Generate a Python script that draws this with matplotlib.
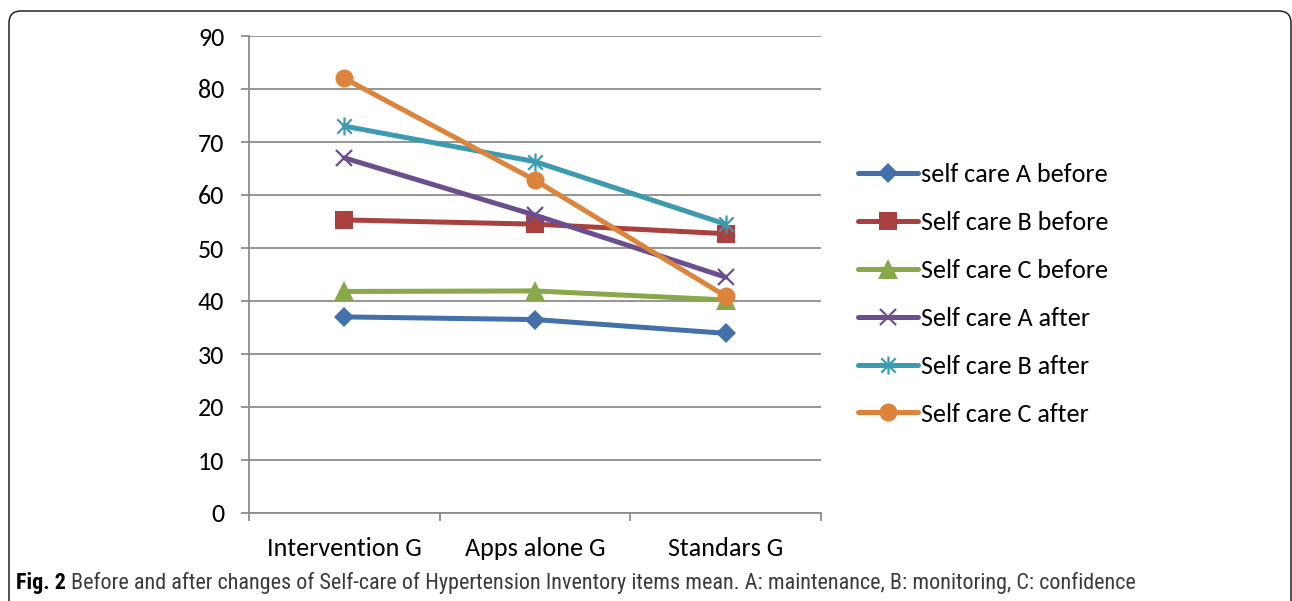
import matplotlib
matplotlib.use('Agg')
import matplotlib.pyplot as plt
from matplotlib import font_manager as fm
from matplotlib.path import Path
from matplotlib.patches import FancyBboxPatch
from matplotlib.transforms import IdentityTransform

# ---------------- data ----------------
categories = ['Intervention G', 'Apps alone G', 'Standars G']
series_names = ['self care A before', 'Self care B before', 'Self care C before',
                'Self care A after', 'Self care B after', 'Self care C after']
a_before = [37.0, 36.5, 33.9]
b_before = [55.3, 54.5, 52.7]
c_before = [41.8, 41.9, 40.2]
a_after = [67.0, 56.2, 44.5]
b_after = [73.0, 66.3, 54.5]
c_after = [82.0, 62.8, 40.9]
y_ticks = [0, 10, 20, 30, 40, 50, 60, 70, 80, 90]
caption_bold = 'Fig. 2'
caption_text = ('Before and after changes of Self-care of Hypertension Inventory items mean. '
                'A: maintenance, B: monitoring, C: confidence')

# ---------------- fonts ----------------
def pick(names, need_regular=False):
    for n in names:
        try:
            f = fm.findfont(fm.FontProperties(family=n, weight='normal'),
                            fallback_to_default=False)
            if need_regular and 'bold' in f.lower():
                continue
            return n
        except Exception:
            pass
    return 'DejaVu Sans'

main_font = pick(['Carlito', 'Calibri', 'Lato', 'Open Sans'])
cap_font = pick(['Liberation Sans Narrow', 'Roboto Condensed', 'Lato', 'Open Sans'],
                need_regular=True)

W, H, DPI = 1292, 601, 100
fig = plt.figure(figsize=(W / DPI, H / DPI), dpi=DPI)
renderer = fig.canvas.get_renderer()

def text_width(s, family, size, weight='normal'):
    t = fig.text(0, 0, s, family=family, fontsize=size, weight=weight)
    w = t.get_window_extent(renderer).width
    t.remove()
    return w

# fit main font so that "Intervention G" is ~155 px wide
main_size = 10 * 155 / text_width('Intervention G', main_font, 10)

# ---------------- axes ----------------
L, R, T, B = 249, 821, 36, 513
ax = fig.add_axes([L / W, 1 - B / H, (R - L) / W, (B - T) / H])

grid_col = '#8c8c8c'
colors = ['#4470A9', '#A9423F', '#88A84A', '#6B4E8E', '#3C9BB1', '#DC843B']

star = Path([(-1, -1), (1, 1), (-1, 1), (1, -1), (0, -1.25), (0, 1.25)],
            [Path.MOVETO, Path.LINETO, Path.MOVETO, Path.LINETO, Path.MOVETO, Path.LINETO])

styles = [
    dict(marker='D', markersize=10, mew=0),
    dict(marker='s', markersize=12.5, mew=0),
    dict(marker='^', markersize=14, mew=0),
    dict(marker='x', markersize=12, mew=1.6),
    dict(marker=star, markersize=13, mew=1.6),
    dict(marker='o', markersize=13, mew=0),
]
all_series = [a_before, b_before, c_before, a_after, b_after, c_after]
x = list(range(len(categories)))
handles = []
for vals, name, col, st in zip(all_series, series_names, colors, styles):
    h, = ax.plot(x, vals, color=col, lw=3.6, solid_capstyle='round',
                 markerfacecolor=col, markeredgecolor=col, label=name,
                 zorder=3, clip_on=False, **st)
    handles.append(h)

ax.set_xlim(-0.5, len(categories) - 0.5)
ax.set_ylim(0, 90)
ax.set_yticks(y_ticks)
ax.set_yticklabels([str(v) for v in y_ticks])
ax.yaxis.grid(True, color=grid_col, lw=1.3)
ax.set_axisbelow(True)
for s in ['top', 'right']:
    ax.spines[s].set_visible(False)
for s in ['left', 'bottom']:
    ax.spines[s].set_color(grid_col)
    ax.spines[s].set_linewidth(1.3)

ax.set_xticks(x)
ax.set_xticklabels(categories)
ax.set_xticks([i - 0.5 for i in range(len(categories) + 1)], minor=True)
ax.tick_params(axis='x', which='major', length=0, pad=17.5)
ax.tick_params(axis='x', which='minor', length=5.8, width=1.3, color=grid_col)
ax.tick_params(axis='y', length=5.8, width=1.3, color=grid_col, pad=12)
for lab in ax.get_xticklabels() + ax.get_yticklabels():
    lab.set_family(main_font)
    lab.set_fontsize(main_size)
    lab.set_color('black')

# ---------------- legend ----------------
leg = fig.legend(handles=handles, loc='center left',
                 bbox_to_anchor=(858 / W, 1 - 294.5 / H),
                 frameon=False, borderpad=0, borderaxespad=0,
                 handlelength=2.3, handletextpad=0.1, labelspacing=0.95,
                 prop=dict(family=main_font, size=main_size))

# ---------------- caption ----------------
cap_target = 1114
size0 = 10
wb = text_width(caption_bold + ' ', cap_font, size0, 'bold')
wr = text_width(caption_text, cap_font, size0)
cap_size = size0 * cap_target / (wb + wr)
wb_px = text_width(caption_bold + ' ', cap_font, cap_size, 'bold')
fig.text(16 / W, 1 - 583 / H, caption_bold, family=cap_font, fontsize=cap_size,
         weight='bold', color='black', va='center')
fig.text((16 + wb_px) / W, 1 - 583 / H, caption_text, family=cap_font,
         fontsize=cap_size, color='#3a3a3a', va='center')

# ---------------- frame ----------------
frame = FancyBboxPatch((9, -40), 1282, (H - 11) + 40,
                       boxstyle='round,pad=0,rounding_size=12',
                       transform=IdentityTransform(), fill=False,
                       edgecolor='#222222', lw=1.1)
fig.patches.append(frame)

fig.savefig('out.png', dpi=DPI)
